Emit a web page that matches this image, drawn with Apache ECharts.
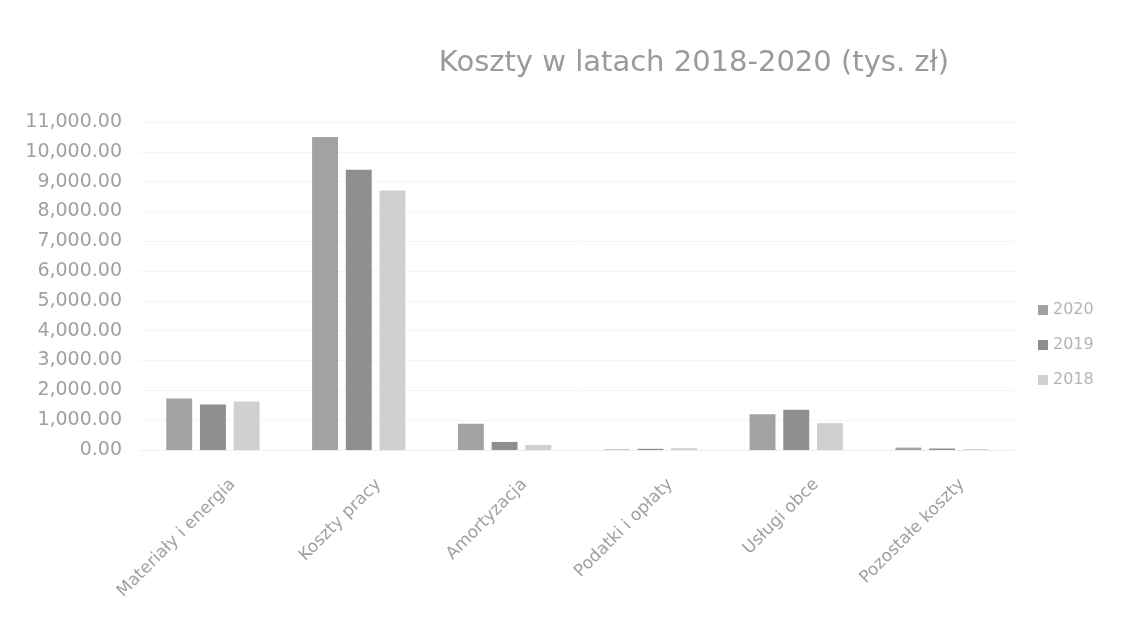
<!DOCTYPE html>
<html>
<head>
<meta charset="utf-8">
<script src="https://cdn.jsdelivr.net/npm/echarts@6/dist/echarts.min.js"></script>
<style>
html,body{margin:0;padding:0;background:#fff;}
#chart{width:1137px;height:631px;}
</style>
</head>
<body>
<div id="chart"></div>
<script>
const categories = ["Materiały i energia", "Koszty pracy", "Amortyzacja", "Podatki i opłaty", "Usługi obce", "Pozostałe koszty"];
const years = ["2020", "2019", "2018"];
const values2020 = [1730, 10500, 880, 20, 1200, 80];
const values2019 = [1530, 9400, 270, 40, 1350, 50];
const values2018 = [1630, 8700, 170, 60, 900, 30];
const yTicks = { min: 0, max: 11000, interval: 1000 };

const colors = ["#a2a2a2", "#8e8e8e", "#d0d0d0"];
const font = "'DejaVu Sans', 'Liberation Sans', sans-serif";

const chart = echarts.init(document.getElementById('chart'));
const seriesData = [values2020, values2019, values2018];
chart.setOption({
  backgroundColor: '#ffffff',
  animation: false,
  title: {
    text: 'Koszty w latach 2018-2020 (tys. zł)',
    left: 689, top: 44, textAlign: 'center',
    textStyle: { fontFamily: font, fontSize: 29, fontWeight: 'normal', color: '#9a9a9a' }
  },
  legend: {
    orient: 'vertical', left: 1033, top: 297, itemGap: 19,
    itemWidth: 10, itemHeight: 10, icon: 'rect',
    data: years,
    textStyle: { fontFamily: font, fontSize: 16, color: '#b4b4b4' }
  },
  grid: { left: 140, right: 122, top: 122, bottom: 181, containLabel: false },
  xAxis: {
    type: 'category', data: categories,
    axisLine: { show: true, lineStyle: { color: '#eeeeee' } },
    axisTick: { show: false },
    axisLabel: { rotate: 45, interval: 0, margin: 12, verticalAlign: 'top', lineHeight: 56, fontFamily: font, fontSize: 17, color: '#a0a0a0' }
  },
  yAxis: {
    type: 'value', min: yTicks.min, max: yTicks.max, interval: yTicks.interval,
    axisLine: { show: false }, axisTick: { show: false },
    splitLine: { show: true, lineStyle: { color: '#f4f4f4' } },
    axisLabel: {
      margin: 18, fontFamily: font, fontSize: 19, color: '#a0a0a0',
      formatter: v => v.toLocaleString('en-US', { minimumFractionDigits: 2, maximumFractionDigits: 2 })
    }
  },
  series: years.map((y, i) => ({
    name: y, type: 'bar', data: seriesData[i],
    barGap: '30%', barCategoryGap: '36%',
    itemStyle: { color: colors[i] }
  }))
});
</script>
</body>
</html>
